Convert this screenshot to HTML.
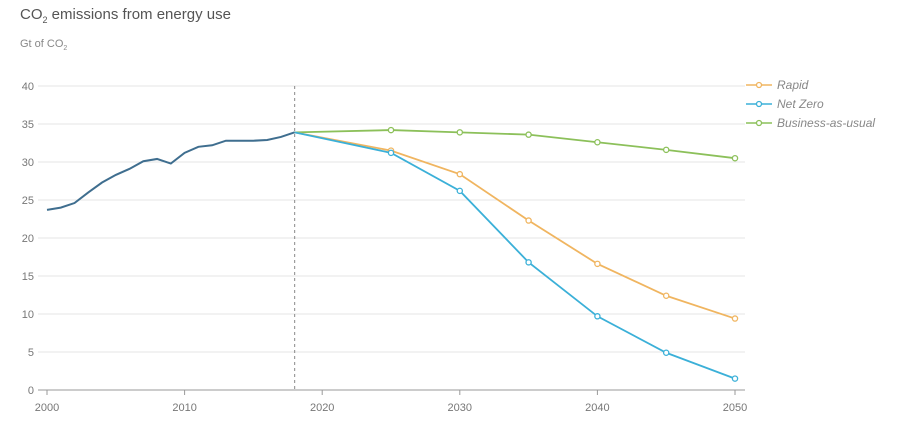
<!DOCTYPE html>
<html><head><meta charset="utf-8"><style>
body{margin:0;background:#fff;width:900px;height:426px;overflow:hidden;font-family:"Liberation Sans",sans-serif}
</style></head><body>
<svg id="s" width="900" height="426" xmlns="http://www.w3.org/2000/svg" font-family="Liberation Sans, sans-serif">
<text x="20" y="19" font-size="15" fill="#555">CO<tspan font-size="9" dy="4">2</tspan><tspan dy="-4"> emissions from energy use</tspan></text>
<text x="20" y="47" font-size="11" fill="#888">Gt of CO<tspan font-size="7" dy="3">2</tspan></text>
<g id="g"></g>
<g font-size="12" font-style="italic" fill="#888">
<line x1="746" y1="85" x2="772" y2="85" stroke="#f0b560" stroke-width="1.5"/><circle cx="759" cy="85" r="2.5" fill="#fff" stroke="#f0b560" stroke-width="1.3"/><text x="777" y="89">Rapid</text>
<line x1="746" y1="104" x2="772" y2="104" stroke="#3bb0d8" stroke-width="1.5"/><circle cx="759" cy="104" r="2.5" fill="#fff" stroke="#3bb0d8" stroke-width="1.3"/><text x="777" y="108">Net Zero</text>
<line x1="746" y1="123" x2="772" y2="123" stroke="#8cc05a" stroke-width="1.5"/><circle cx="759" cy="123" r="2.5" fill="#fff" stroke="#8cc05a" stroke-width="1.3"/><text x="777" y="127">Business-as-usual</text>
</g>
</svg>
<script>
const X=y=>47+13.76*(y-2000),Y=v=>390-7.6*v;let h='';
for(let v=0;v<=40;v+=5){h+=`<line x1="38" x2="745" y1="${Y(v)}" y2="${Y(v)}" stroke="${v?'#e6e6e6':'#999'}" stroke-width="1"/><text x="34" y="${Y(v)+4}" font-size="11" fill="#777" text-anchor="end">${v}</text>`;}
for(let yr=2000;yr<=2050;yr+=10){h+=`<line x1="${X(yr)}" x2="${X(yr)}" y1="390" y2="395" stroke="#999"/><text x="${X(yr)}" y="411" font-size="11" fill="#777" text-anchor="middle">${yr}</text>`;}
h+=`<line x1="${X(2018)}" x2="${X(2018)}" y1="86" y2="390" stroke="#888" stroke-dasharray="3,3"/>`;
const hist=[23.7,24,24.6,26,27.3,28.3,29.1,30.1,30.4,29.8,31.2,32,32.2,32.8,32.8,32.8,32.9,33.3,33.9];
h+=`<polyline fill="none" stroke="#3f6e8f" stroke-width="2" points="${hist.map((v,i)=>X(2000+i)+','+Y(v)).join(' ')}"/>`;
const yrs=[2018,2025,2030,2035,2040,2045,2050];
const S=[['#8cc05a',[33.9,34.2,33.9,33.6,32.6,31.6,30.5]],['#f0b560',[33.9,31.5,28.4,22.3,16.6,12.4,9.4]],['#3bb0d8',[33.9,31.2,26.2,16.8,9.7,4.9,1.5]]];
for(const [c,d] of S){h+=`<polyline fill="none" stroke="${c}" stroke-width="1.8" points="${d.map((v,i)=>X(yrs[i])+','+Y(v)).join(' ')}"/>`;
for(let i=1;i<d.length;i++)h+=`<circle cx="${X(yrs[i])}" cy="${Y(d[i])}" r="2.6" fill="#fff" stroke="${c}" stroke-width="1.3"/>`;}
document.getElementById('g').innerHTML=h;
</script>
</body></html>
